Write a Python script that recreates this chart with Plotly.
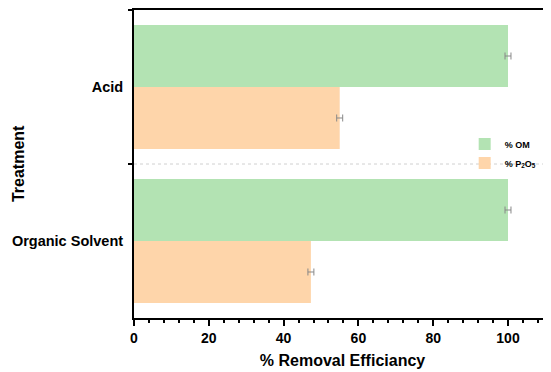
import plotly.graph_objects as go

categories = ["Acid", "Organic Solvent"]
om_values = [100.0, 100.0]
om_errors = [0.8, 0.8]
p2o5_values = [55.0, 47.3]
p2o5_errors = [0.8, 0.8]

GREEN = "#b3e3b3"
ORANGE = "#fed5aa"
FONT = "Liberation Sans, Arial, sans-serif"

fig = go.Figure()
fig.add_trace(go.Bar(
    y=categories, x=om_values, orientation="h", name="% OM",
    marker=dict(color=GREEN, line=dict(width=0)),
    error_x=dict(type="data", array=om_errors, color="#888888", thickness=1, width=3.5),
))
fig.add_trace(go.Bar(
    y=categories, x=p2o5_values, orientation="h", name="% P<sub>2</sub>O<sub>5</sub>",
    marker=dict(color=ORANGE, line=dict(width=0)),
    error_x=dict(type="data", array=p2o5_errors, color="#888888", thickness=1, width=3.5),
))

fig.add_shape(type="line", xref="paper", yref="paper", x0=0, x1=1, y0=0.5, y1=0.5,
              line=dict(color="#d0d0d0", width=1, dash="dot"), layer="below")

fig.add_annotation(text="Treatment", xref="paper", yref="paper", x=-0.278, y=0.5,
                   xanchor="center", yanchor="middle", textangle=-90, showarrow=False,
                   font=dict(size=16, weight="bold", family=FONT, color="black"))

fig.update_layout(
    width=551, height=372,
    margin=dict(l=126, r=8, t=2, b=62),
    paper_bgcolor="white", plot_bgcolor="white",
    barmode="group", bargap=0.195, bargroupgap=0,
    font=dict(family=FONT, color="black", size=12),
    showlegend=True,
    legend=dict(x=0.793, y=0.612, xanchor="left", yanchor="top",
                font=dict(size=9, weight="bold", family=FONT),
                bgcolor="rgba(0,0,0,0)", tracegroupgap=0, itemwidth=30),
    xaxis=dict(
        range=[0, 111.5], showline=True, linecolor="black", linewidth=2, mirror=True,
        automargin=False,
        ticks="outside", ticklen=6, tickwidth=2, tickcolor="black",
        dtick=20, tick0=0, showgrid=False, zeroline=False,
        tickfont=dict(size=14, weight="bold", family=FONT),
        minor=dict(dtick=4, ticks="outside", ticklen=3, tickwidth=1.5, tickcolor="black", showgrid=False),
        title=dict(text="% Removal Efficiancy", font=dict(size=16, weight="bold", family=FONT), standoff=10),
    ),
    yaxis=dict(
        categoryorder="array", categoryarray=categories, autorange="reversed",
        showline=True, linecolor="black", linewidth=2, mirror=False,
        automargin=False,
        ticks="outside", tickson="boundaries", ticklen=4, tickwidth=2, tickcolor="black",
        showgrid=False, zeroline=False, ticklabelstandoff=6,
        tickfont=dict(size=14.5, weight="bold", family=FONT),
    ),
)

fig.write_html("out.html")
